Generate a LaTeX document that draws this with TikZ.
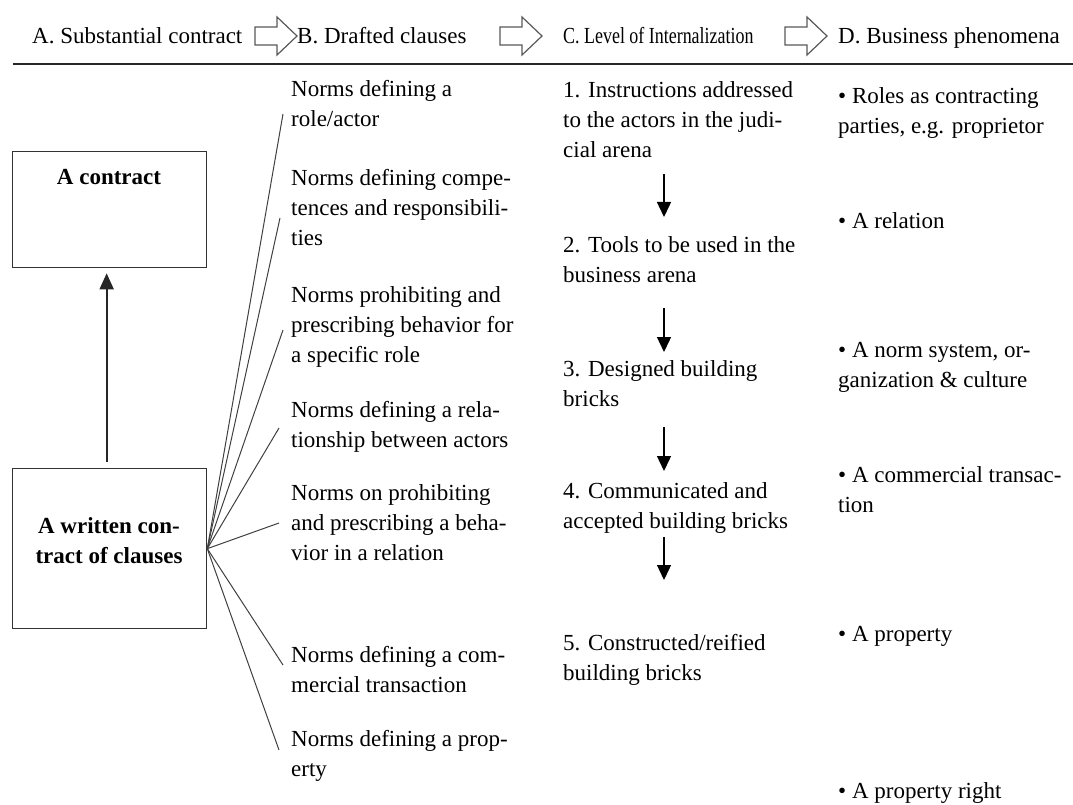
\documentclass[tikz,border=0pt]{standalone}
\usepackage{fontspec}
\usepackage{graphicx}
\setmainfont{Liberation Serif}
\usetikzlibrary{arrows.meta}
\begin{document}
\begin{tikzpicture}[x=1pt,y=-1pt,
  txt/.style={anchor=base west, inner sep=0pt, align=left, font=\fontsize{23}{30}\selectfont},
  hdr/.style={anchor=base west, inner sep=0pt, font=\fontsize{23}{28}\selectfont},
  boxlbl/.style={anchor=base, inner sep=0pt, align=center, font=\fontsize{23}{30}\selectfont\bfseries},
  boxshape/.style={draw=black!80, line width=1.3pt, anchor=north west, inner sep=0pt},
  fanline/.style={draw=black!75, line width=1pt},
  downarrow/.style={draw=black, line width=1.4pt, -{Triangle[length=15pt,width=14pt]}},
  uparrow/.style={draw=black!85, line width=1.8pt, -{Triangle[length=16pt,width=14pt]}},
  harrow/.style={draw=black!65, line width=1.2pt, fill=white, line join=miter}]
\useasboundingbox (0,0) rectangle (1073,805);

% header
\node[hdr] (hA) at (32,44) {A. Substantial contract};
\node[hdr] (hB) at (297,44) {B. Drafted clauses};
\node[hdr] (hC) at (563,44) {\scalebox{0.78}[1]{C. Level of Internalization}};
\node[hdr] (hD) at (838,44) {D. Business phenomena};
\foreach \x/\n in {255/ha1,500/ha2,785/ha3}{
  \draw[harrow, shift={(\x,0)}] (0,27) -- (22,27) -- (22,17) -- (42,36) -- (22,55) -- (22,45) -- (0,45) -- cycle;
}
\coordinate (ruleL) at (13,64);
\coordinate (ruleR) at (1073,64);
\draw[line width=1.8pt, black!85] (ruleL) -- (ruleR);

% column A
\node[boxshape, minimum width=194pt, minimum height=116pt] (contract) at (12,151) {};
\node[boxlbl] (contractlbl) at (109,185) {A contract};
\node[boxshape, minimum width=194pt, minimum height=160pt] (written) at (12,468) {};
\node[boxlbl] (writtenlbl) at (109,563) {A written con-\\tract of clauses};
\draw[uparrow, shorten <=6pt, shorten >=5pt] ([xshift=-3pt]written.north) -- ([xshift=-3pt]contract.south);

% column B (positions give the baseline of the last line)
\node[txt] (b1) at (291,127) {Norms defining a\\role/actor};
\node[txt] (b2) at (291,245) {Norms defining compe-\\tences and responsibili-\\ties};
\node[txt] (b3) at (291,362) {Norms prohibiting and\\prescribing behavior for\\a specific role};
\node[txt] (b4) at (291,447) {Norms defining a rela-\\tionship between actors};
\node[txt] (b5) at (291,560) {Norms on prohibiting\\and prescribing a beha-\\vior in a relation};
\node[txt] (b6) at (291,692) {Norms defining a com-\\mercial transaction};
\node[txt] (b7) at (291,776) {Norms defining a prop-\\erty};

\coordinate (e1) at (283,114);
\coordinate (e2) at (280,218);
\coordinate (e3) at (283,330);
\coordinate (e4) at (279,428);
\coordinate (e5) at (279,523);
\coordinate (e6) at (283,665);
\coordinate (e7) at (279,750);
\foreach \e in {e1,e2,e3,e4,e5,e6,e7}{
  \draw[fanline] (written.east) -- (\e);
}

% column C
\node[txt] (c1) at (563,158) {1. Instructions addressed\\to the actors in the judi-\\cial arena};
\node[txt] (c2) at (563,282) {2. Tools to be used in the\\business arena};
\node[txt] (c3) at (563,406) {3. Designed building\\bricks};
\node[txt] (c4) at (563,528) {4. Communicated and\\accepted building bricks};
\node[txt] (c5) at (563,680) {5. Constructed/reified\\building bricks};

\coordinate (a1s) at (664,174); \coordinate (a1e) at (664,217);
\coordinate (a2s) at (664,308); \coordinate (a2e) at (664,352);
\coordinate (a3s) at (664,427); \coordinate (a3e) at (664,471);
\coordinate (a4s) at (664,537); \coordinate (a4e) at (664,580);
\draw[downarrow] (a1s) -- (a1e);
\draw[downarrow] (a2s) -- (a2e);
\draw[downarrow] (a3s) -- (a3e);
\draw[downarrow] (a4s) -- (a4e);

% column D
\node[txt] (d1) at (838,134) {\textbullet{} Roles as contracting\\parties, e.g. proprietor};
\node[txt] (d2) at (838,229) {\textbullet{} A relation};
\node[txt] (d3) at (838,387) {\textbullet{} A norm system, or-\\ganization \& culture};
\node[txt] (d4) at (838,512) {\textbullet{} A commercial transac-\\tion};
\node[txt] (d5) at (838,641) {\textbullet{} A property};
\node[txt] (d6) at (838,798) {\textbullet{} A property right};
\end{tikzpicture}
\end{document}
